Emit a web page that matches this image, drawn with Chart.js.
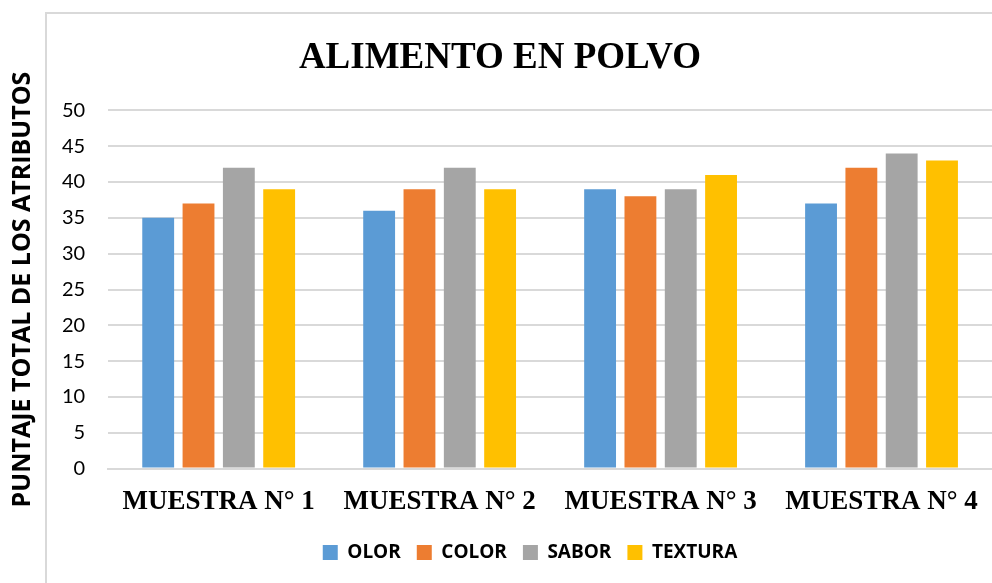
<!DOCTYPE html>
<html>
<head>
  <meta charset="utf-8">
  <script src="https://cdn.jsdelivr.net/npm/chart.js@4"></script>
  <style>
    html, body { margin: 0; padding: 0; background: #fff; }
    #wrap { position: relative; width: 992px; height: 583px; }
    #frame {
      position: absolute; left: 45px; top: 12px; width: 960px; height: 600px;
      border-left: 2px solid #d9d9d9; border-top: 2px solid #d9d9d9;
    }
    canvas { position: absolute; left: 0; top: 0; }
  </style>
</head>
<body>
<div id="wrap">
  <div id="frame"></div>
  <canvas id="chart" width="992" height="583"></canvas>
</div>

<script type="text/javascript">
  // data
  const muestras = ['MUESTRA N° 1', 'MUESTRA N° 2', 'MUESTRA N° 3', 'MUESTRA N° 4'];
  const olor    = [35, 36, 39, 37];
  const color   = [37, 39, 38, 42];
  const sabor   = [42, 42, 39, 44];
  const textura = [39, 39, 41, 43];

  const sans = '"Open Sans", "Noto Sans", sans-serif';
  const serif = '"Liberation Serif", "DejaVu Serif", serif';

  function ds(label, data, col) {
    return {
      label: label,
      data: data,
      backgroundColor: col,
      borderWidth: 0,
      categoryPercentage: 0.73,
      barPercentage: 0.79
    };
  }

  // legend in the original sits a bit right of the canvas centre
  const nudgeLegend = {
    id: 'nudgeLegend',
    afterLayout(chart) {
      if (chart.legend) {
        chart.legend.left += 30;
        chart.legend.right += 30;
      }
    }
  };

  const ctx = document.getElementById('chart').getContext('2d');
  new Chart(ctx, {
    type: 'bar',
    data: {
      labels: muestras,
      datasets: [
        ds('OLOR', olor, '#5b9bd5'),
        ds('COLOR', color, '#ed7d31'),
        ds('SABOR', sabor, '#a5a5a5'),
        ds('TEXTURA', textura, '#ffc000')
      ]
    },
    plugins: [nudgeLegend],
    options: {
      responsive: false,
      animation: false,
      layout: { padding: { left: 8, right: 0, top: 36, bottom: 11 } },
      plugins: {
        title: {
          display: true,
          text: 'ALIMENTO EN POLVO',
          color: '#000',
          font: { family: serif, size: 37, weight: 'bold' },
          padding: { top: 0, bottom: 30 }
        },
        legend: {
          position: 'bottom',
          labels: {
            color: '#000',
            boxWidth: 15,
            boxHeight: 15,
            padding: 16,
            font: { family: sans, size: 19, weight: 'bold' }
          }
        },
        tooltip: { enabled: false }
      },
      scales: {
        x: {
          grid: { display: false },
          border: { color: '#d9d9d9', width: 2 },
          ticks: {
            color: '#000',
            padding: 9,
            font: { family: serif, size: 27, weight: 'bold' }
          }
        },
        y: {
          min: 0,
          max: 50,
          ticks: {
            stepSize: 5,
            color: '#000',
            padding: 23,
            font: { family: 'Lato, sans-serif', size: 20 }
          },
          grid: { color: '#d9d9d9', lineWidth: 2, drawTicks: false },
          border: { display: false },
          title: {
            display: true,
            text: 'PUNTAJE TOTAL DE LOS ATRIBUTOS',
            color: '#000',
            padding: { top: 0, bottom: 1 },
            font: { family: sans, size: 25, weight: 'bold' }
          }
        }
      }
    }
  });
</script>
</body>
</html>
